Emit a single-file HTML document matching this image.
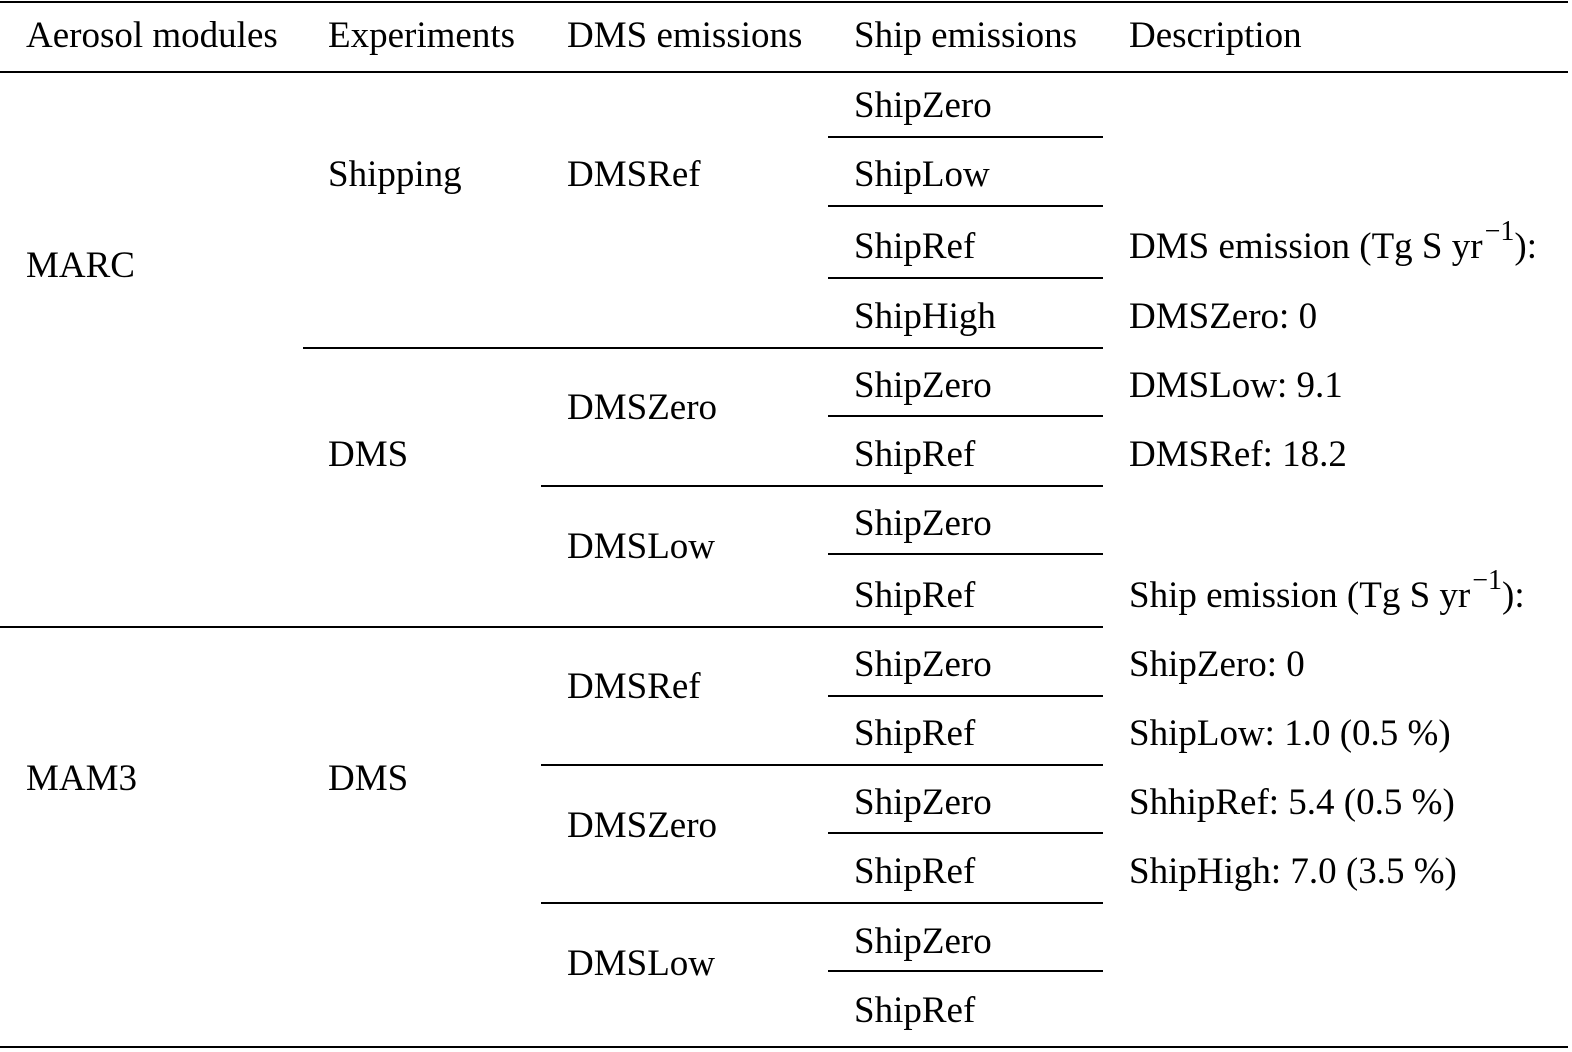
<!DOCTYPE html>
<html><head><meta charset="utf-8"><style>
body{margin:0;width:1572px;height:1052px;background:#fff;position:relative;overflow:hidden;font-family:"Liberation Serif",serif;color:#000}
.t{position:absolute;font-size:37px;line-height:40px;white-space:nowrap}
.l{position:absolute;height:2px;background:#000}
sup{font-size:28px;line-height:0;position:relative;top:-5px;margin-left:2px}
</style></head><body>
<div class="l" style="left:0;width:1568px;top:1px"></div>
<div class="l" style="left:0;width:1568px;top:71px"></div>
<div class="l" style="left:828px;width:275px;top:136px"></div>
<div class="l" style="left:828px;width:275px;top:205px"></div>
<div class="l" style="left:828px;width:275px;top:277px"></div>
<div class="l" style="left:303px;width:800px;top:347px"></div>
<div class="l" style="left:828px;width:275px;top:415px"></div>
<div class="l" style="left:541px;width:562px;top:485px"></div>
<div class="l" style="left:828px;width:275px;top:553px"></div>
<div class="l" style="left:0;width:1103px;top:626px"></div>
<div class="l" style="left:828px;width:275px;top:695px"></div>
<div class="l" style="left:541px;width:562px;top:764px"></div>
<div class="l" style="left:828px;width:275px;top:832px"></div>
<div class="l" style="left:541px;width:562px;top:902px"></div>
<div class="l" style="left:828px;width:275px;top:970px"></div>
<div class="l" style="left:0;width:1568px;top:1046px"></div>

<div class="t" style="left:26px;top:16px">Aerosol modules</div>
<div class="t" style="left:328px;top:16px">Experiments</div>
<div class="t" style="left:567px;top:16px">DMS emissions</div>
<div class="t" style="left:854px;top:16px">Ship emissions</div>
<div class="t" style="left:1129px;top:16px">Description</div>

<div class="t" style="left:26px;top:246px">MARC</div>
<div class="t" style="left:26px;top:759px">MAM3</div>
<div class="t" style="left:328px;top:155px">Shipping</div>
<div class="t" style="left:328px;top:435px">DMS</div>
<div class="t" style="left:328px;top:759px">DMS</div>

<div class="t" style="left:567px;top:155px">DMSRef</div>
<div class="t" style="left:567px;top:388px">DMSZero</div>
<div class="t" style="left:567px;top:527px">DMSLow</div>
<div class="t" style="left:567px;top:667px">DMSRef</div>
<div class="t" style="left:567px;top:806px">DMSZero</div>
<div class="t" style="left:567px;top:944px">DMSLow</div>

<div class="t" style="left:854px;top:86px">ShipZero</div>
<div class="t" style="left:854px;top:155px">ShipLow</div>
<div class="t" style="left:854px;top:227px">ShipRef</div>
<div class="t" style="left:854px;top:297px">ShipHigh</div>
<div class="t" style="left:854px;top:366px">ShipZero</div>
<div class="t" style="left:854px;top:435px">ShipRef</div>
<div class="t" style="left:854px;top:504px">ShipZero</div>
<div class="t" style="left:854px;top:576px">ShipRef</div>
<div class="t" style="left:854px;top:645px">ShipZero</div>
<div class="t" style="left:854px;top:714px">ShipRef</div>
<div class="t" style="left:854px;top:783px">ShipZero</div>
<div class="t" style="left:854px;top:852px">ShipRef</div>
<div class="t" style="left:854px;top:922px">ShipZero</div>
<div class="t" style="left:854px;top:991px">ShipRef</div>

<div class="t" style="left:1129px;top:227px">DMS emission (Tg S yr<sup>−1</sup>):</div>
<div class="t" style="left:1129px;top:297px">DMSZero: 0</div>
<div class="t" style="left:1129px;top:366px">DMSLow: 9.1</div>
<div class="t" style="left:1129px;top:435px">DMSRef: 18.2</div>
<div class="t" style="left:1129px;top:576px">Ship emission (Tg S yr<sup>−1</sup>):</div>
<div class="t" style="left:1129px;top:645px">ShipZero: 0</div>
<div class="t" style="left:1129px;top:714px">ShipLow: 1.0 (0.5 %)</div>
<div class="t" style="left:1129px;top:783px">ShhipRef: 5.4 (0.5 %)</div>
<div class="t" style="left:1129px;top:852px">ShipHigh: 7.0 (3.5 %)</div>
</body></html>
